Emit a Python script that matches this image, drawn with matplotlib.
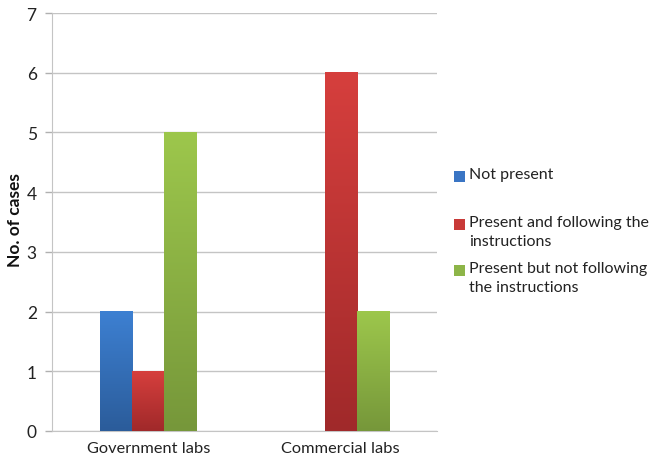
import numpy as np
import matplotlib
matplotlib.use("Agg")
import matplotlib.pyplot as plt
from matplotlib.colors import LinearSegmentedColormap
from matplotlib.patches import Rectangle

categories = ["Government labs", "Commercial labs"]
series_names = ["Not present", "Present and following the\ninstructions",
                "Present but not following\nthe instructions"]
not_present = [2, 0]
present_following = [1, 6]
present_not_following = [5, 2]
yticks = [0, 1, 2, 3, 4, 5, 6, 7]
ylabel = "No. of cases"

series_values = [not_present, present_following, present_not_following]
top_colors = ["#3d80d2", "#d63f3d", "#9dc74c"]
bottom_colors = ["#2b5c9a", "#a0292a", "#76973a"]
legend_colors = ["#3a75c4", "#c83a38", "#8db548"]

plt.rcParams['font.family'] = ['Lato', 'DejaVu Sans']
fig = plt.figure(figsize=(6.49, 4.64), dpi=100)
ax = fig.add_axes([52/649, 1-432/464, (437-52)/649, (432-14)/464])

x = np.arange(len(categories))
bw = 0.5/3
for i, vals in enumerate(series_values):
    bars = ax.bar(x + (i-1)*bw, vals, width=bw, color="none", edgecolor="none", zorder=3)
    cmap = LinearSegmentedColormap.from_list("g%d" % i, [bottom_colors[i], top_colors[i]])
    grad = np.linspace(0, 1, 256).reshape(-1, 1)
    for b in bars:
        h = b.get_height()
        if h <= 0:
            continue
        x0 = b.get_x(); x1 = x0 + b.get_width()
        ax.imshow(grad, extent=(x0, x1, 0, h), origin="lower", cmap=cmap,
                  aspect="auto", zorder=3, interpolation="bicubic")

ax.set_xlim(-0.5, 1.5)
ax.set_ylim(0, 7)
ax.set_yticks(yticks)
ax.set_xticks(x)
ax.set_xticklabels(categories, fontsize=11.8, color="#222222")
ax.tick_params(axis="x", length=0, pad=7)
ax.tick_params(axis="y", length=5, color="#b0b0b0", width=1, pad=6, labelsize=12.5, labelcolor="#222222")
ax.yaxis.grid(True, color="#c4c4c4", linewidth=1, zorder=0)
ax.set_axisbelow(True)
for s in ["top", "right"]:
    ax.spines[s].set_visible(False)
ax.spines["left"].set_color("#c4c4c4")
ax.spines["bottom"].set_color("#c4c4c4")
fig.text(15/649, 1-220/464, ylabel, rotation=90, fontsize=12.5, fontweight="bold",
         color="#111111", ha="center", va="center")

# legend (manual, Excel-like)
first_line_y = [177, 225, 271]
for name, col, yy in zip(series_names, legend_colors, first_line_y):
    fig.patches.append(Rectangle((454/649, 1-(yy+5.5)/464), 11/649, 11/464,
                                 transform=fig.transFigure, facecolor=col, edgecolor="none"))
    fig.text(469/649, 1-(yy-9)/464, name, fontsize=11.5, color="#222222",
             va="top", ha="left", linespacing=1.45)

fig.savefig("out.png", dpi=100)
